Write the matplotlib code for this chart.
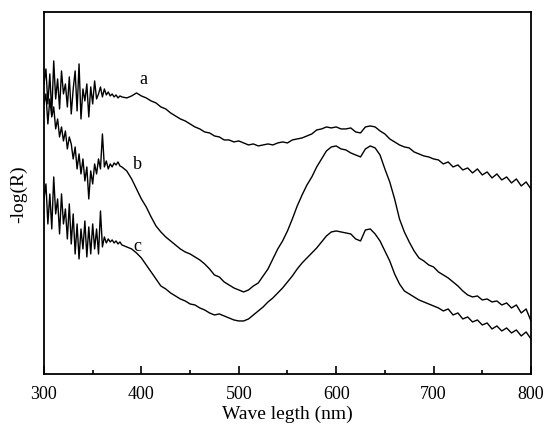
import numpy as np
import matplotlib
matplotlib.use('Agg')
import matplotlib.pyplot as plt
from matplotlib.ticker import MultipleLocator

# wavelength grid: dense in the noisy UV part, 5 nm afterwards
wl = np.concatenate([np.arange(300, 381, 2), np.arange(385, 801, 5)])

# -log(R), arbitrary units
a_vals = [290, 305, 270, 300, 260, 313, 275, 295, 265, 303, 280, 290, 267, 297, 260,
          285, 303, 263, 310, 255, 285, 273, 290, 257, 287, 270, 293, 275, 280, 287,
          277, 285, 279, 282, 278, 280, 277, 279, 276, 278, 277,
          276, 278, 281, 278, 276, 273, 271, 267, 265, 261, 258, 255, 253, 250, 247,
          245, 242, 241, 238, 237, 234, 234, 232, 233, 231, 229, 230, 228, 229, 230,
          229, 231, 232, 231, 234, 235, 236, 238, 240, 244, 245, 247, 246, 247, 245,
          245, 246, 242, 241, 247, 248, 247, 243, 240, 235, 232, 229, 227, 226, 222,
          220, 218, 217, 215, 214, 210, 212, 207, 209, 204, 206, 201, 205, 199, 202,
          196, 200, 194, 197, 191, 195, 188, 192, 185]

b_vals = [270, 280, 250, 275, 257, 267, 245, 255, 237, 247, 233, 243, 225, 237, 230,
          215, 227, 205, 220, 200, 215, 193, 207, 175, 203, 190, 210, 200, 215, 205,
          240, 207, 213, 205, 210, 207, 211, 209, 212, 208, 207,
          203, 195, 185, 175, 167, 157, 148, 142, 137, 133, 129, 125, 122, 120, 117,
          114, 110, 105, 99, 97, 92, 89, 86, 84, 82, 84, 88, 91, 98, 105,
          115, 125, 133, 143, 155, 168, 179, 189, 197, 207, 215, 223, 227, 228, 225,
          224, 221, 219, 217, 225, 228, 226, 219, 205, 192, 175, 155, 142, 132, 123,
          116, 113, 109, 107, 102, 99, 96, 92, 88, 83, 79, 77, 78, 74, 75,
          72, 73, 69, 71, 66, 69, 61, 65, 53]

c_vals = [175, 190, 150, 180, 145, 197, 160, 175, 140, 180, 150, 165, 135, 170, 130,
          160, 120, 150, 115, 145, 125, 153, 117, 147, 120, 150, 125, 145, 120, 163,
          127, 137, 131, 135, 132, 134, 131, 133, 130, 132, 129,
          127, 125, 121, 116, 109, 102, 95, 88, 85, 81, 78, 75, 73, 70, 69,
          66, 64, 61, 59, 60, 58, 56, 54, 53, 53, 55, 59, 63, 67, 72,
          76, 81, 86, 92, 98, 105, 111, 116, 121, 126, 132, 138, 142, 143, 142,
          141, 140, 135, 133, 144, 145, 140, 133, 123, 113, 100, 90, 83, 80, 77,
          74, 72, 70, 68, 66, 63, 65, 59, 61, 55, 57, 52, 54, 49, 51,
          45, 48, 43, 46, 41, 44, 38, 42, 35]

curve_labels = ['a', 'b', 'c']
label_pos = [(402, 295), (396, 210), (396, 128)]

plt.rcParams['font.family'] = ['Liberation Serif', 'DejaVu Serif']

fig = plt.figure(figsize=(5.47, 4.31), dpi=100)
ax = fig.add_axes([0.0804, 0.130, 0.8903, 0.840])

for vals in (a_vals, b_vals, c_vals):
    ax.plot(wl, vals, color='black', lw=1.0)

for lab, (x, y) in zip(curve_labels, label_pos):
    ax.text(x, y, lab, fontsize=13, ha='center', va='center')

ax.set_xlim(300, 800)
ax.set_ylim(0, 362)
ax.xaxis.set_major_locator(MultipleLocator(100))
ax.xaxis.set_minor_locator(MultipleLocator(50))
ax.tick_params(axis='x', which='major', direction='in', length=6, width=1.2,
               labelsize=13, pad=8)
ax.tick_params(axis='x', which='minor', direction='in', length=3, width=1.2)
ax.set_yticks([])
for s in ax.spines.values():
    s.set_linewidth(1.3)

ax.set_xlabel('Wave legth (nm)', fontsize=14, labelpad=2)
ax.set_ylabel('-log(R)', fontsize=14, labelpad=12)

fig.savefig('out.png', dpi=100)
